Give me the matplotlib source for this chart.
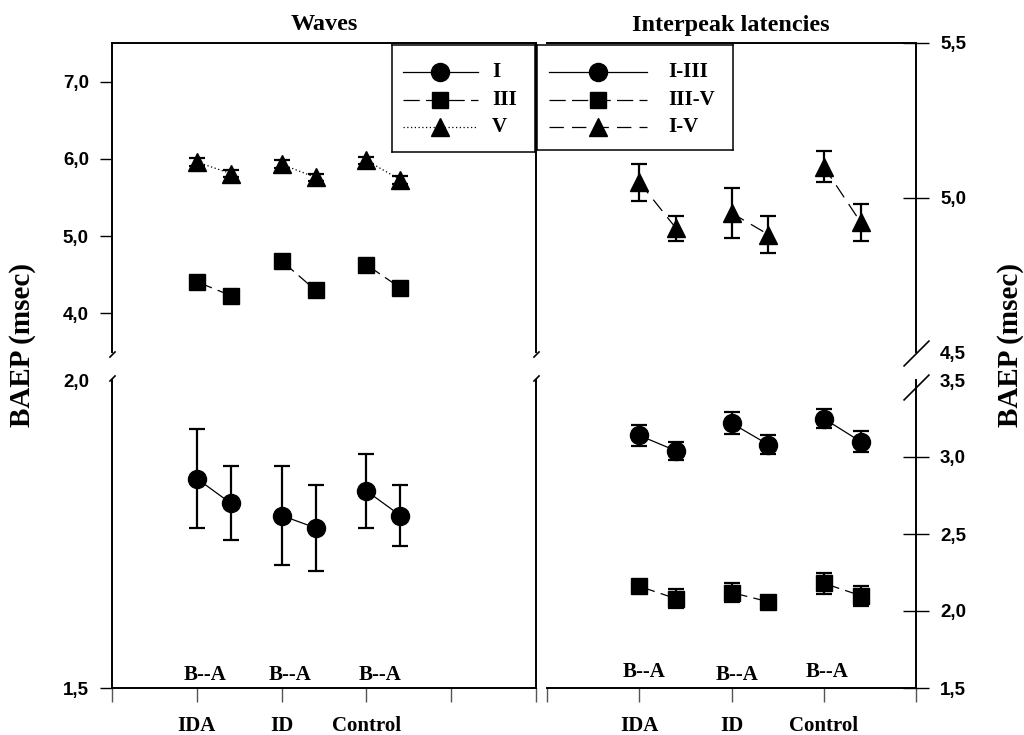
import matplotlib
matplotlib.use("Agg")
import matplotlib.pyplot as plt
import numpy as np
from matplotlib.ticker import FuncFormatter
from matplotlib.transforms import blended_transform_factory

# groups, B = before, A = after treatment
groups = ["IDA", "ID", "Control"]

# Waves (msec)
wave_I_b = [1.84, 1.78, 1.82]
wave_I_a = [1.80, 1.76, 1.78]
wave_I_sd_b = [0.08, 0.08, 0.06]
wave_I_sd_a = [0.06, 0.07, 0.05]

wave_III_b = [4.41, 4.68, 4.63]
wave_III_a = [4.23, 4.30, 4.33]
wave_III_sd_b = [0.05, 0.05, 0.05]
wave_III_sd_a = [0.05, 0.05, 0.05]

wave_V_b = [5.96, 5.93, 5.98]
wave_V_a = [5.81, 5.76, 5.73]
wave_V_sd_b = [0.05, 0.05, 0.05]
wave_V_sd_a = [0.05, 0.05, 0.05]

# Interpeak latencies (msec)
ipl_I_III_b = [3.14, 3.22, 3.25]
ipl_I_III_a = [3.04, 3.08, 3.10]
ipl_I_III_sd_b = [0.07, 0.07, 0.06]
ipl_I_III_sd_a = [0.06, 0.06, 0.07]

ipl_III_V_b = [2.16, 2.12, 2.18]
ipl_III_V_a = [2.08, 2.06, 2.10]
ipl_III_V_sd_b = [0.04, 0.06, 0.07]
ipl_III_V_sd_a = [0.06, 0.03, 0.065]

ipl_I_V_b = [5.05, 4.95, 5.10]
ipl_I_V_a = [4.90, 4.88, 4.92]
ipl_I_V_sd_b = [0.06, 0.08, 0.05]
ipl_I_V_sd_a = [0.04, 0.06, 0.06]

SERIF = "Liberation Serif"
SANS = "Liberation Sans"

# numbers on the y axes are bold sans, everything else bold serif
plt.rcParams["font.family"] = SANS
plt.rcParams["font.weight"] = "bold"
plt.rcParams["ytick.labelsize"] = 13.5
plt.rcParams["xtick.labelsize"] = 15

SOLID = "-"
DASH_III = (0, (13, 5))
DASH_IV = (0, (11.5, 6.5))
DOT = (0, (1, 2))

W, H = 1024, 735
fig = plt.figure(figsize=(W / 100, H / 100), dpi=100)


def px_axes(x0, y0, x1, y1):
    return fig.add_axes([x0 / W, 1 - y1 / H, (x1 - x0) / W, (y1 - y0) / H])


axLt = px_axes(112, 43, 536, 352)
axLb = px_axes(112, 380, 536, 688)
axRt = px_axes(547, 43, 916, 352)
axRb = px_axes(547, 380, 916, 688)

offset = 0.4
x_b = np.arange(1, len(groups) + 1)
x_a = x_b + offset


def draw_series(ax, before, after, sd_b, sd_a, marker, ms, ls):
    for i in range(len(groups)):
        ax.plot([x_b[i], x_a[i]], [before[i], after[i]], color="black",
                lw=0.9, linestyle=ls, zorder=2)
    for xs, ys, es in [(x_b, before, sd_b), (x_a, after, sd_a)]:
        ax.errorbar(xs, ys, yerr=es, fmt="none", ecolor="black",
                    elinewidth=1.6, capsize=6, capthick=1.6, zorder=3)
        ax.plot(xs, ys, linestyle="none", marker=marker, ms=ms,
                color="black", zorder=4)


draw_series(axLb, wave_I_b, wave_I_a, wave_I_sd_b, wave_I_sd_a, "o", 13, SOLID)
draw_series(axLt, wave_III_b, wave_III_a, wave_III_sd_b, wave_III_sd_a, "s", 12, DASH_III)
draw_series(axLt, wave_V_b, wave_V_a, wave_V_sd_b, wave_V_sd_a, "^", 13, DOT)

draw_series(axRb, ipl_I_III_b, ipl_I_III_a, ipl_I_III_sd_b, ipl_I_III_sd_a, "o", 13, SOLID)
draw_series(axRb, ipl_III_V_b, ipl_III_V_a, ipl_III_V_sd_b, ipl_III_V_sd_a, "s", 12, DASH_III)
draw_series(axRt, ipl_I_V_b, ipl_I_V_a, ipl_I_V_sd_b, ipl_I_V_sd_a, "^", 13, DASH_IV)

comma = FuncFormatter(lambda v, p: f"{v:.1f}".replace(".", ","))

# limits
axLt.set_xlim(0, 5)
axLb.set_xlim(0, 5)
axRt.set_xlim(0, 4)
axRb.set_xlim(0, 4)
axLt.set_ylim(3.5, 7.5)
axLb.set_ylim(1.5, 2.0)
axRt.set_ylim(4.5, 5.5)
axRb.set_ylim(1.5, 3.5)

axLt.set_yticks([4.0, 5.0, 6.0, 7.0])
axLb.set_yticks([1.5, 2.0])
axRt.set_yticks([4.5, 5.0, 5.5])
axRb.set_yticks([1.5, 2.0, 2.5, 3.0, 3.5])

for ax in (axLt, axLb, axRt, axRb):
    ax.yaxis.set_major_formatter(comma)
    for s in ax.spines.values():
        s.set_linewidth(1.4)

# spines
axLt.spines["bottom"].set_visible(False)
axLb.spines["top"].set_visible(False)
axRt.spines["bottom"].set_visible(False)
axRt.spines["left"].set_visible(False)
axRb.spines["top"].set_visible(False)
axRb.spines["left"].set_visible(False)

for ax in (axLt, axRt):
    ax.set_xticks([])

axLt.tick_params(axis="y", direction="out", length=8.6, width=1, pad=8)
axLb.tick_params(axis="y", direction="out", length=8.6, width=1, pad=8)
axLb.yaxis.get_major_ticks()[1].tick1line.set_visible(False)

for ax in (axRt, axRb):
    ax.yaxis.tick_right()
    ax.tick_params(axis="y", direction="inout", length=18.7, width=1, pad=8)
axRt.yaxis.get_major_ticks()[0].tick2line.set_visible(False)
axRb.yaxis.get_major_ticks()[-1].tick2line.set_visible(False)

# category axis
axLb.set_xticks(range(0, 6))
axLb.set_xticklabels([""] + groups + ["", ""], fontfamily=SERIF)
axRb.set_xticks(range(0, 5))
axRb.set_xticklabels([""] + groups + [""], fontfamily=SERIF)
for ax in (axLb, axRb):
    ax.tick_params(axis="x", direction="out", length=10, width=1,
                   color="#555555", pad=10)

# B--A labels
for ax, xs, ys in [(axLb, [1.10, 2.10, 3.16], [0.042, 0.042, 0.042]),
                   (axRb, [1.05, 2.06, 3.04], [0.052, 0.042, 0.052])]:
    tr = blended_transform_factory(ax.transData, ax.transAxes)
    for x, y in zip(xs, ys):
        ax.text(x, y, "B--A", transform=tr, ha="center", va="center",
                fontfamily=SERIF, fontsize=15)

# axis breaks
def brk(ax, x, y, size, lw=1.2):
    ax.plot([x], [y], transform=ax.transAxes, marker=[(-1, -1), (1, 1)],
            markersize=size, linestyle="none", color="black", mew=lw,
            clip_on=False, zorder=5)


for x in (0, 1):
    brk(axLt, x, -0.006, 4.5)
    brk(axLb, x, 1.008, 4.5)
brk(axRt, 1, -0.003, 18.7)
brk(axRb, 1, 0.977, 18.7)

# titles and axis labels
fig.text(324 / W, 1 - 25 / H, "Waves", ha="center", va="center",
         fontfamily=SERIF, fontsize=17.5)
fig.text(731 / W, 1 - 25 / H, "Interpeak latencies", ha="center", va="center",
         fontfamily=SERIF, fontsize=17.5)
for xp in (23, 1011):
    fig.text(xp / W, 1 - 345 / H, "BAEP (msec)", rotation=90, ha="center",
             va="center", fontfamily=SERIF, fontsize=21)


# legends
def legend_box(x0, y0, x1, y1, entries, hx0, hx1, tx, rows):
    lg = px_axes(x0, y0, x1, y1)
    lg.set_xlim(0, 1)
    lg.set_ylim(0, 1)
    lg.set_xticks([])
    lg.set_yticks([])
    for s in lg.spines.values():
        s.set_linewidth(1.1)
    lg.set_zorder(10)
    for (label, marker, ms, ls), ry in zip(entries, rows):
        lg.plot([hx0, hx1], [ry, ry], color="black", lw=0.9, linestyle=ls)
        lg.plot([(hx0 + hx1) / 2], [ry], marker=marker, ms=ms, color="black",
                linestyle="none")
        lg.text(tx, ry, label, ha="left", va="center", fontfamily=SERIF,
                fontsize=15)


legend_box(392, 45, 535, 152,
           [("I", "o", 13, SOLID), ("III", "s", 12, DASH_III), ("V", "^", 13, DOT)],
           0.077, 0.601, 0.70, [0.748, 0.486, 0.234])
legend_box(537, 45, 733, 150,
           [("I-III", "o", 13, SOLID), ("III-V", "s", 12, DASH_III),
            ("I-V", "^", 13, DASH_IV)],
           0.061, 0.561, 0.668, [0.743, 0.476, 0.219])

fig.savefig("out.png", dpi=100)
